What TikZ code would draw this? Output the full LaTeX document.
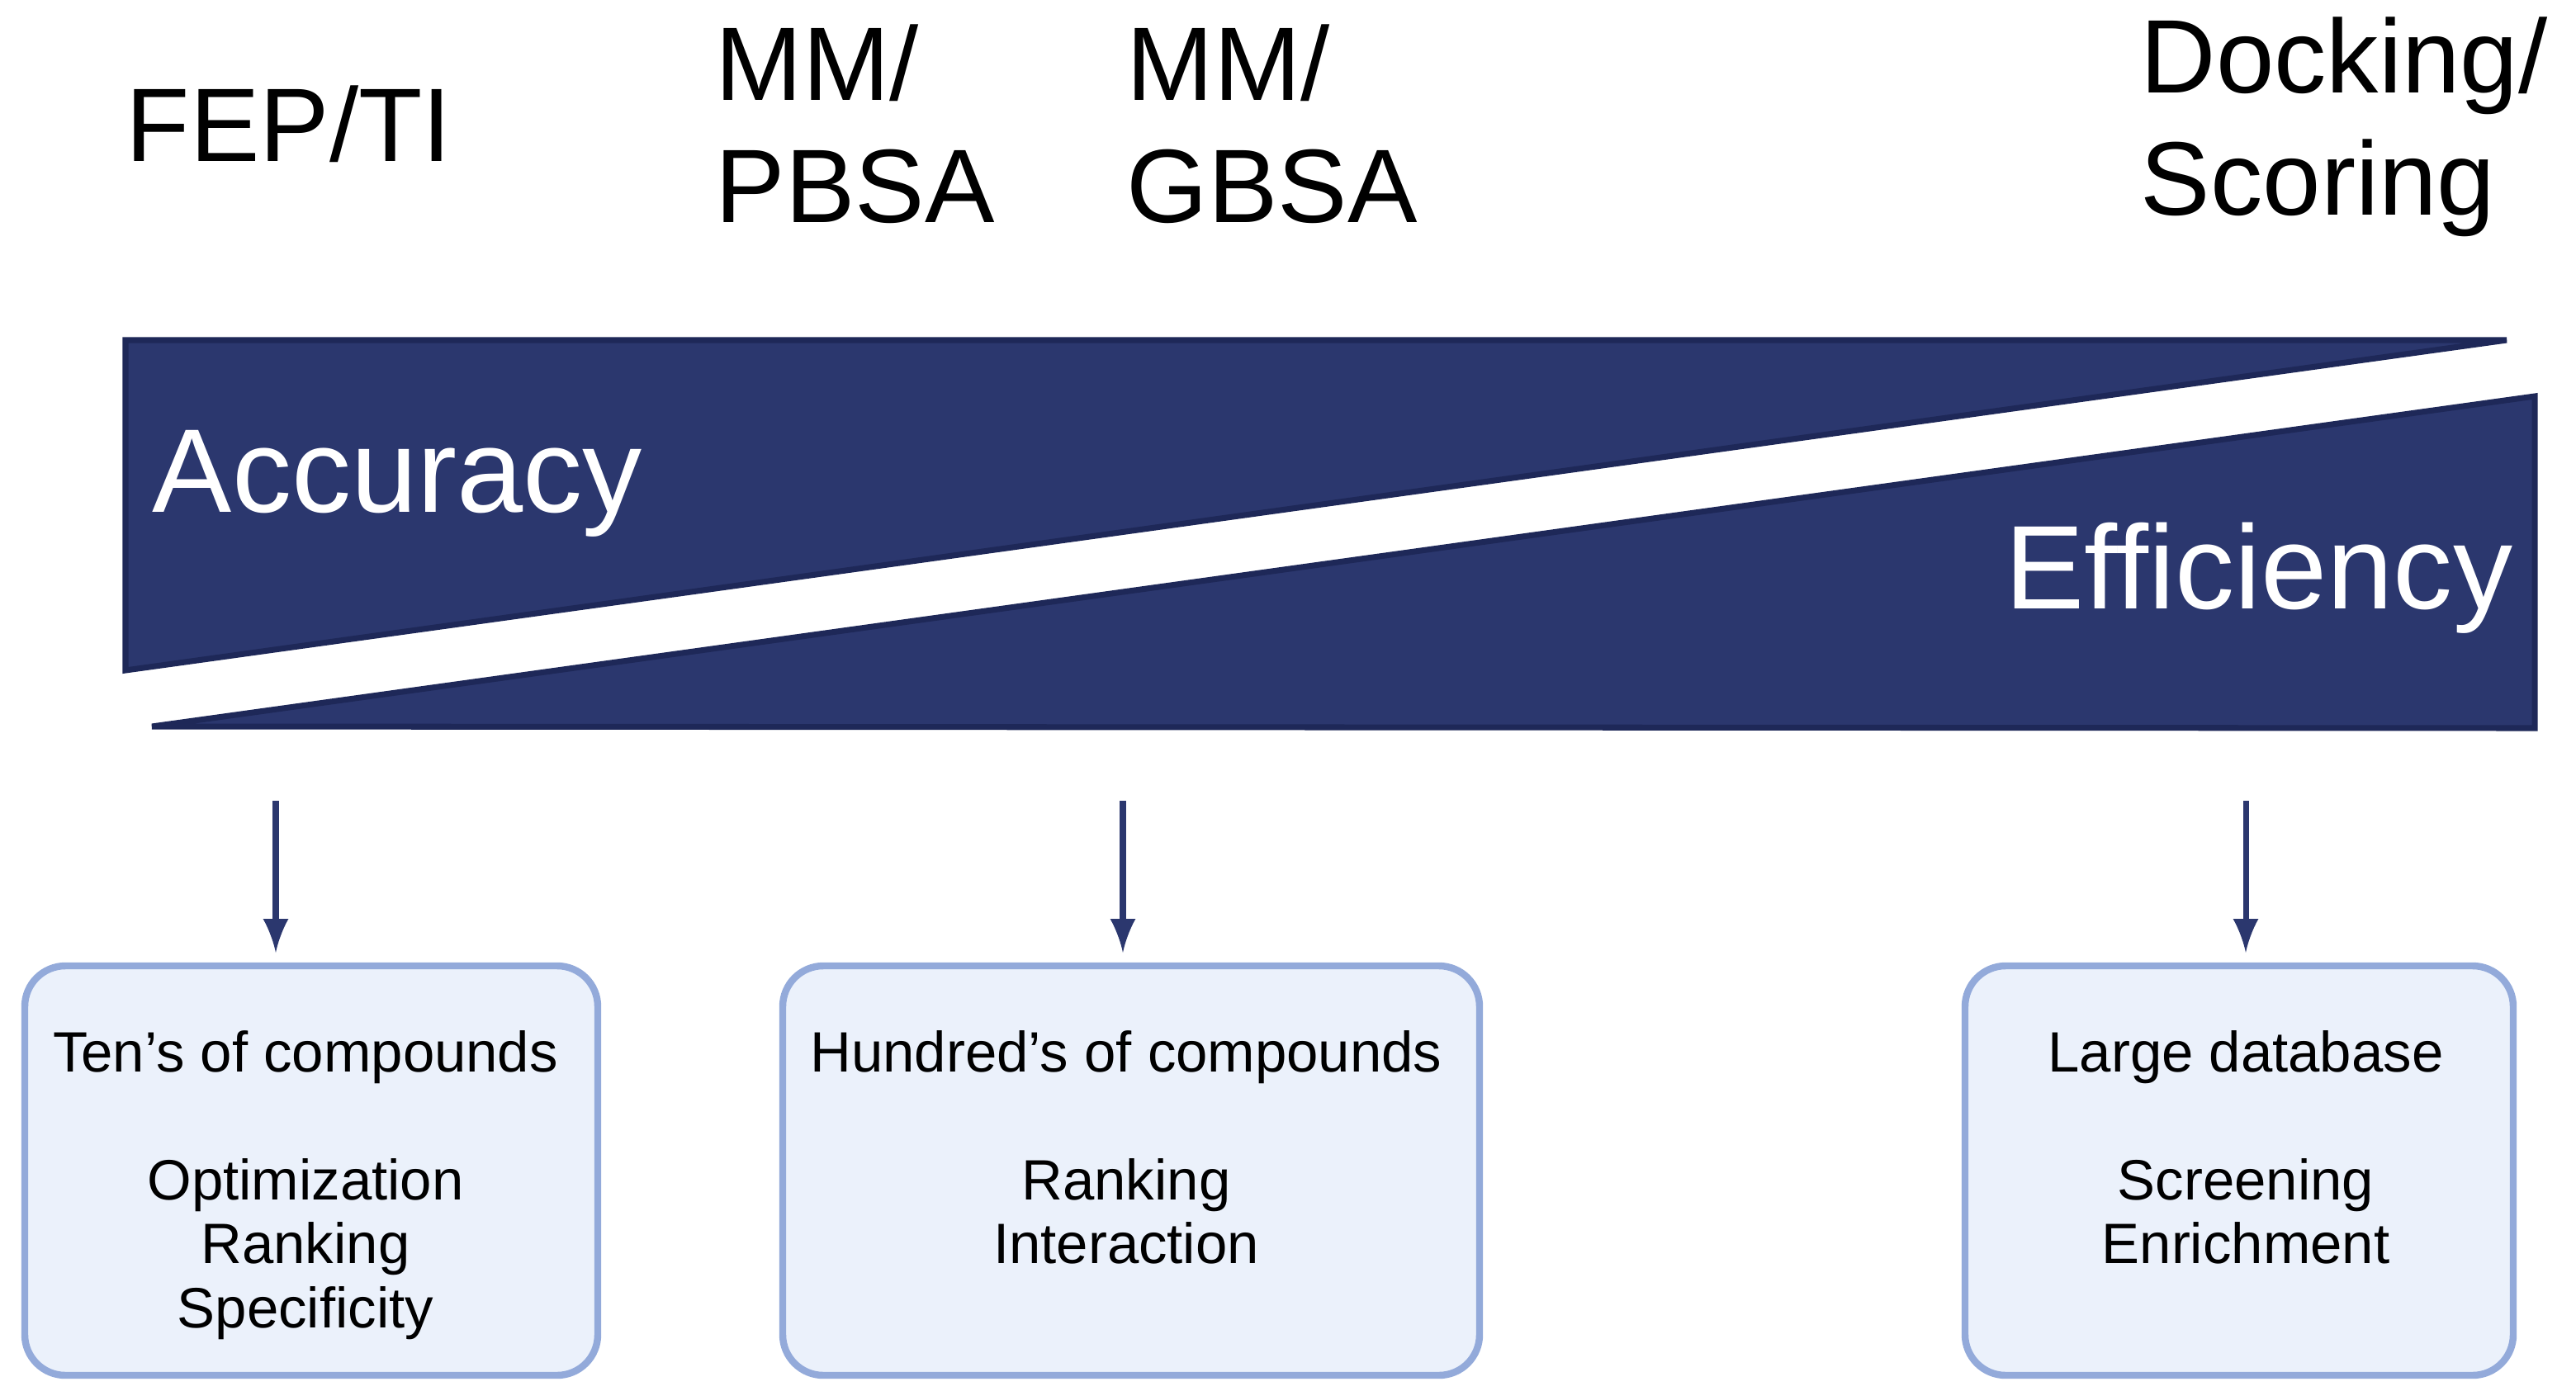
\documentclass[tikz,border=0pt]{standalone}
\usepackage{fontspec}
\setmainfont{Liberation Sans}
\usetikzlibrary{positioning}
\definecolor{navy}{HTML}{2B376E}
\definecolor{navyline}{HTML}{1E2858}
\definecolor{boxfill}{HTML}{EBF1FB}
\definecolor{boxline}{HTML}{93AADA}
\tikzset{
    TOP/.style ={anchor=west,align=left,font=\fontsize{18}{21}\selectfont},
    BIG/.style ={text=white,font=\fontsize{20.5}{24}\selectfont},
    BOX/.style ={rounded corners=7pt,draw=boxline,line width=1.2pt,fill=boxfill},
    TXT/.style ={anchor=north,align=center,font=\fontsize{9.8}{11}\selectfont},
    AR/.style ={navy,line width=1pt,-latex}}
\begin{document}
\begin{tikzpicture}[x=0.01cm,y=-0.01cm]
        \useasboundingbox (0,0) rectangle (1560,842);
        \fill[navy,draw=navyline,line width=1pt] (76,206) -- (1518,206) -- (76,406) -- cycle;
        \fill[navy,draw=navyline,line width=1pt] (92,440) -- (1535,240) -- (1535,441) -- cycle;
        \node[BIG,anchor=west] (acc) at(80,293){Accuracy};
        \node[BIG,anchor=east] (eff) at(1534,350){Efficiency};
        \node[TOP] (fep) at(64,75){FEP/TI};
        \node[TOP] (pb) at(421,75){MM/\\PBSA};
        \node[TOP] (gb) at(670,75){MM/\\GBSA};
        \node[TOP] (dock) at(1284,77){Docking/\\Scoring};
        \path[BOX] (15,585) rectangle (362,833);
        \path[BOX] (474,585) rectangle (896,833);
        \path[BOX] (1190,585) rectangle (1522,833);
        \node[TXT] (t1) at(185,612){Ten's of compounds\\[11pt]Optimization\\Ranking\\Specificity};
        \node[TXT] (t2) at(682,612){Hundred's of compounds\\[11pt]Ranking\\Interaction};
        \node[TXT] (t3) at(1360,612){Large database\\[11pt]Screening\\Enrichment};
        \coordinate (a1) at(167,485); \coordinate (a2) at(680,485); \coordinate (a3) at(1360,485);
        \coordinate (e1) at(167,577); \coordinate (e2) at(680,577); \coordinate (e3) at(1360,577);
        \draw[AR] (a1) -- (e1);
        \draw[AR] (a2) -- (e2);
        \draw[AR] (a3) -- (e3);
    \end{tikzpicture}
\end{document}
